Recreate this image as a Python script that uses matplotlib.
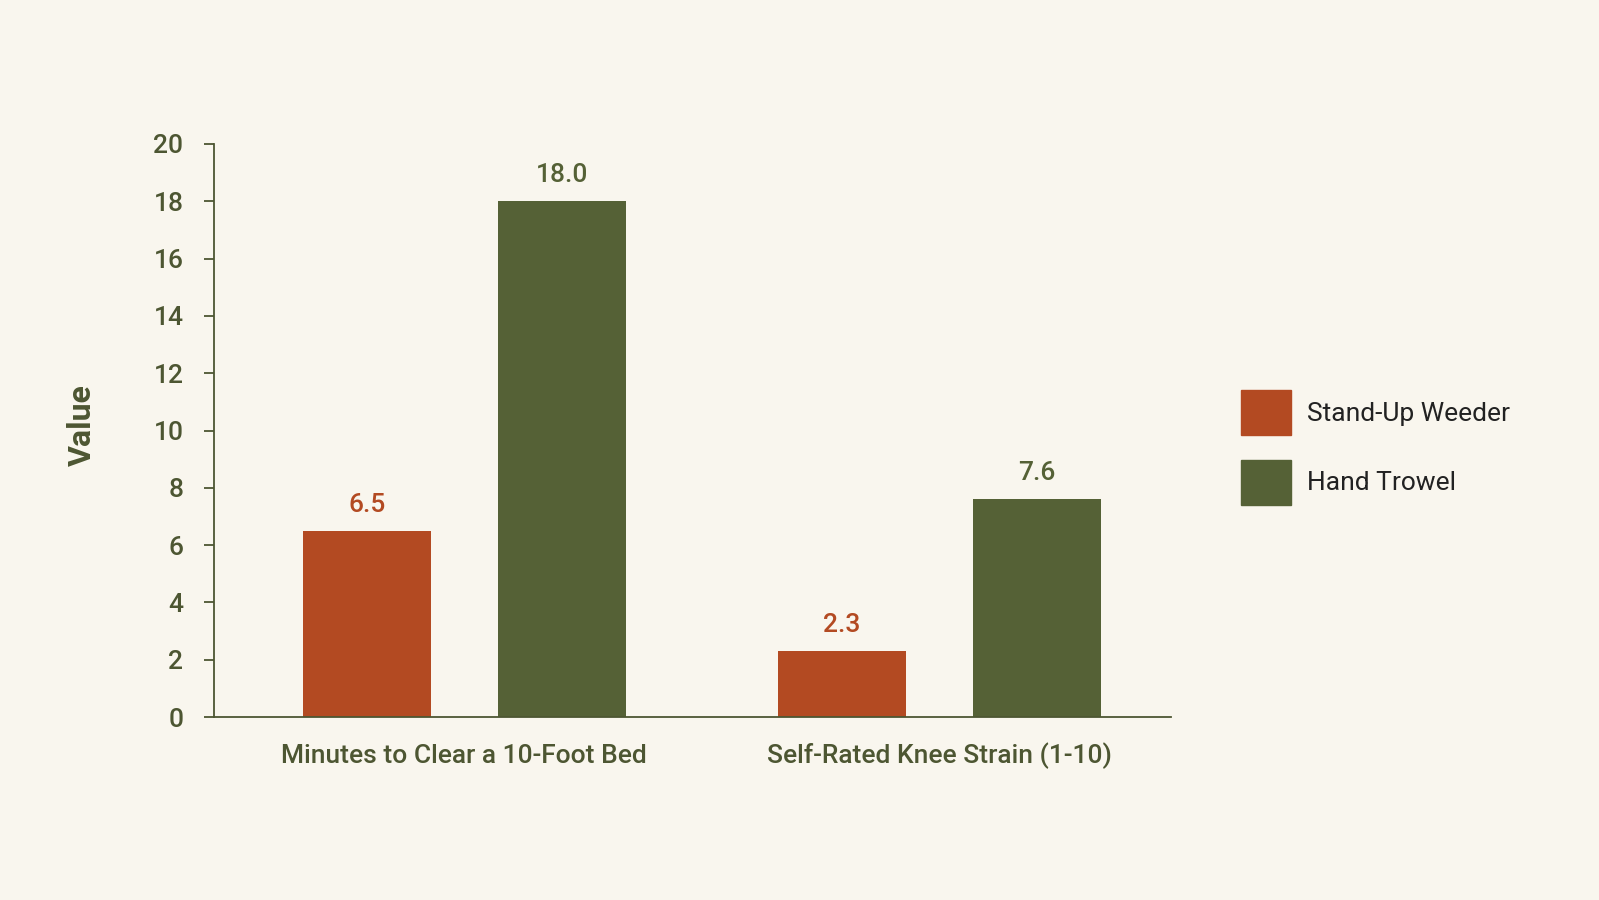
import numpy as np
import matplotlib
matplotlib.use('Agg')
import matplotlib.pyplot as plt
from matplotlib.patches import Patch

plt.rcParams['font.family'] = ['Roboto', 'DejaVu Sans']

# data
categories = ['Minutes to Clear a 10-Foot Bed', 'Self-Rated Knee Strain (1-10)']
series_names = ['Stand-Up Weeder', 'Hand Trowel']
weeder = [6.5, 2.3]
trowel = [18.0, 7.6]

bg = '#F9F6EE'
c_weeder = '#B34A22'
c_trowel = '#556136'
txt = '#4D5632'

fig = plt.figure(figsize=(15.99, 9.0), dpi=100, facecolor=bg)
ax = fig.add_axes([0.1338, 0.2033, 0.5985, 0.6367])
ax.set_facecolor(bg)

x = np.arange(len(categories))
w = 0.27
off = 0.205
b1 = ax.bar(x - off, weeder, w, color=c_weeder)
b2 = ax.bar(x + off, trowel, w, color=c_trowel)

for bars, col in [(b1, c_weeder), (b2, c_trowel)]:
    for r in bars:
        ax.annotate('%.1f' % r.get_height(), (r.get_x() + r.get_width() / 2, r.get_height()),
                    xytext=(0, 10), textcoords='offset points', ha='center', va='bottom',
                    fontsize=19, fontweight='medium', color=col)

ax.set_xlim(-0.527, 1.487)
ax.set_ylim(0, 20)
ax.set_yticks(range(0, 21, 2))
ax.set_xticks(x)
ax.set_xticklabels(categories)
ax.tick_params(axis='y', colors=txt, labelsize=19, length=7, width=1.3, pad=15)
ax.tick_params(axis='x', colors=txt, labelsize=19, length=0, pad=33)
for lab in ax.get_xticklabels():
    lab.set_fontweight('medium')
    lab.set_verticalalignment('baseline')
for lab in ax.get_yticklabels():
    lab.set_fontweight('medium')
for s in ['top', 'right']:
    ax.spines[s].set_visible(False)
for s in ['left', 'bottom']:
    ax.spines[s].set_color(txt)
    ax.spines[s].set_linewidth(1.3)

ax.set_ylabel('Value', fontsize=23, fontweight='bold', color=txt)
ax.yaxis.set_label_coords(-0.122, 0.51)

handles = [Patch(color=c_weeder), Patch(color=c_trowel)]
leg = fig.legend(handles, series_names, loc='center left', bbox_to_anchor=(0.761, 0.503),
                 frameon=False, fontsize=19, handlelength=1.9, handleheight=2.24,
                 labelspacing=0.95, handletextpad=0.6, labelcolor='#222222')

fig.savefig('out.png', dpi=100, facecolor=bg)
